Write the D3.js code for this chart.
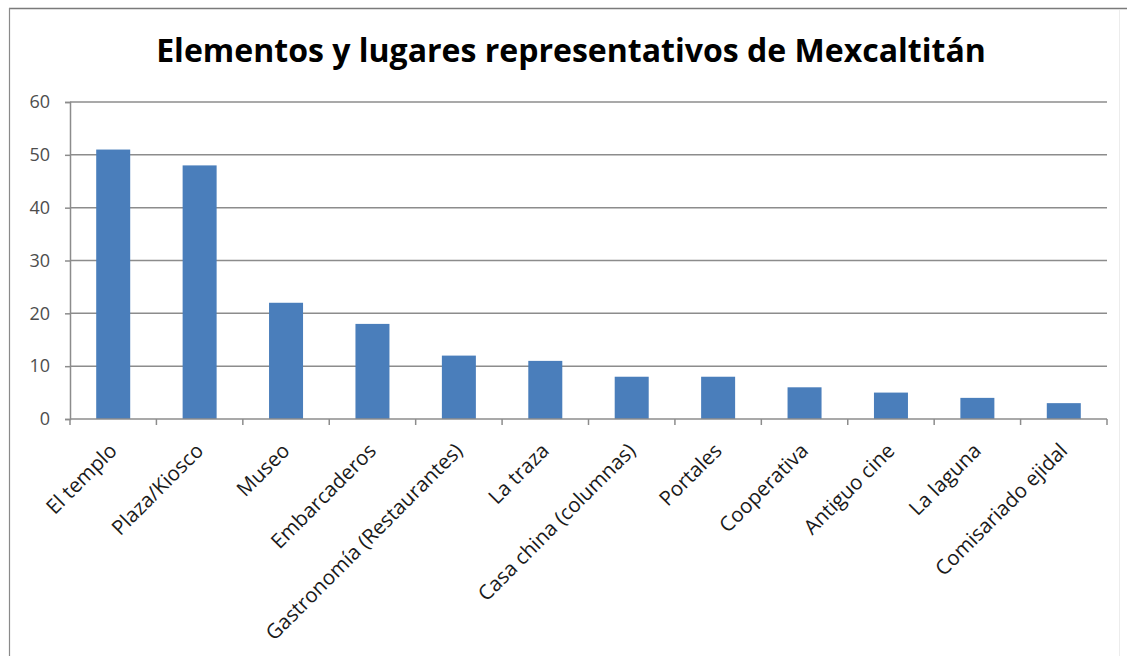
<!DOCTYPE html>
<html>
<head>
<meta charset="utf-8">
<script src="https://cdn.jsdelivr.net/npm/d3@7"></script>
<style>
  html, body { margin: 0; padding: 0; background: #fff; }
  svg { display: block; }
</style>
</head>
<body>
<script>
const title = "Elementos y lugares representativos de Mexcaltitán";
const categories = ["El templo", "Plaza/Kiosco", "Museo", "Embarcaderos", "Gastronomía (Restaurantes)", "La traza", "Casa china (columnas)", "Portales", "Cooperativa", "Antiguo cine", "La laguna", "Comisariado ejidal"];
const values = [51, 48, 22, 18, 12, 11, 8, 8, 6, 5, 4, 3];
const yTicks = [0, 10, 20, 30, 40, 50, 60];

const W = 1127, H = 656;
const svg = d3.select("body").append("svg").attr("width", W).attr("height", H);
svg.append("rect").attr("width", W).attr("height", H).attr("fill", "#fff");

// outer chart frame
svg.append("line").attr("x1", 9).attr("x2", W).attr("y1", 8.5).attr("y2", 8.5).attr("stroke", "#7a7a7a").attr("stroke-width", 1.5);
svg.append("line").attr("x1", 9.5).attr("x2", 9.5).attr("y1", 8).attr("y2", H).attr("stroke", "#8a8a8a").attr("stroke-width", 1.2);
svg.append("line").attr("x1", 1119.5).attr("x2", 1119.5).attr("y1", 10).attr("y2", H).attr("stroke", "#ececec").attr("stroke-width", 1);

const xOuter = d3.scaleBand().domain(categories).range([70, 1107]);
const y = d3.scaleLinear().domain([0, 60]).range([419, 102]);

const font = "'Open Sans', 'Liberation Sans', sans-serif";

// title
const t = svg.append("text").text(title)
  .attr("x", 571).attr("y", 62)
  .attr("text-anchor", "middle")
  .attr("font-family", font).attr("font-weight", 700)
  .attr("font-size", 30).attr("fill", "#000");
const tw = t.node().getComputedTextLength();
t.attr("font-size", 30 * 830 / tw);

// gridlines
svg.append("g").selectAll("line").data(yTicks.filter(d => d > 0)).join("line")
  .attr("x1", 70).attr("x2", 1107)
  .attr("y1", d => y(d)).attr("y2", d => y(d))
  .attr("stroke", "#8c8c8c").attr("stroke-width", 1.5);

// bars
svg.append("g").selectAll("rect").data(values).join("rect")
  .attr("x", (d, i) => xOuter(categories[i]) + xOuter.bandwidth() / 2 - 17)
  .attr("width", 34)
  .attr("y", d => y(d))
  .attr("height", d => y(0) - y(d))
  .attr("fill", "#4a7ebb");

// y axis
const yAxis = svg.append("g").attr("transform", "translate(70,0)")
  .call(d3.axisLeft(y).tickValues(yTicks).tickSize(5).tickPadding(15));
yAxis.select(".domain").attr("stroke", "#8c8c8c").attr("stroke-width", 1.5);
yAxis.selectAll(".tick line").attr("stroke", "#8c8c8c").attr("stroke-width", 1.5);
yAxis.selectAll(".tick text").attr("font-family", font).attr("font-size", 18).attr("fill", "#4d4d4d");

// x axis
const bounds = d3.range(categories.length + 1);
const xb = d3.scaleLinear().domain([0, categories.length]).range([70, 1107]);
svg.append("line").attr("x1", 70).attr("x2", 1107).attr("y1", 419).attr("y2", 419)
  .attr("stroke", "#8c8c8c").attr("stroke-width", 1.5);
svg.append("g").selectAll("line").data(bounds).join("line")
  .attr("x1", d => xb(d)).attr("x2", d => xb(d))
  .attr("y1", 419).attr("y2", 425)
  .attr("stroke", "#8c8c8c").attr("stroke-width", 1.5);

// x labels
svg.append("g").selectAll("text").data(categories).join("text")
  .text(d => d)
  .attr("transform", d => `translate(${xOuter(d) + xOuter.bandwidth() / 2 + 5},${452}) rotate(-45)`)
  .attr("text-anchor", "end")
  .attr("font-family", font).attr("font-size", 20.5).attr("fill", "#1a1a1a");
</script>
</body>
</html>
